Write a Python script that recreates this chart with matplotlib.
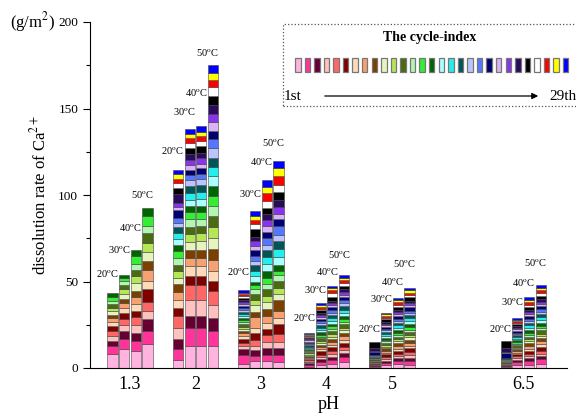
import matplotlib
matplotlib.use('Agg')
import matplotlib.pyplot as plt
from matplotlib.patches import Rectangle

plt.rcParams['font.family'] = ['Liberation Serif', 'DejaVu Serif']
plt.rcParams['mathtext.fontset'] = 'stix'

# pH groups, temperatures and dissolved Ca per cycle (29 cycles, g/m2)
ph_labels = ['1.3', '2', '3', '4', '5', '6.5']
ph_pos = [1, 2, 3, 4, 5, 7]
temps = ['20', '30', '40', '50']

ph13 = [
    [8.3, 4.2, 2.9, 2.9, 2.9, 2.9, 2.3, 2.5, 1.9, 1.9, 1.9, 2.3, 1.9, 2.1, 2.3] + [0] * 14,
    [11.0, 5.8, 4.4, 3.5, 3.7, 3.5, 2.5, 2.9, 2.7, 2.9, 2.5, 2.5, 2.3, 1.9, 1.9] + [0] * 14,
    [9.6, 5.8, 4.8, 4.4, 4.6, 3.8, 3.8, 4.4, 3.3, 4.4, 4.2, 3.5, 3.8, 4.2, 3.5] + [0] * 14,
    [13.8, 7.3, 7.1, 4.8, 5.4, 7.1, 4.8, 6.3, 5.2, 5.4, 4.8, 5.8, 4.4, 5.8, 4.2] + [0] * 14,
]
ph2 = [
    [4.4, 6.5, 6.0, 6.2, 6.7, 4.8, 4.8, 4.8, 4.2, 3.8, 3.8, 3.5, 3.8, 4.2, 3.5,
     3.5, 3.3, 3.5, 2.7, 2.9, 4.4, 1.9, 2.3, 4.8, 3.5, 2.9, 2.3, 3.1, 2.3],
    [12.5, 10.4, 7.3, 9.2, 8.7, 5.2, 5.4, 4.8, 4.6, 4.8, 4.6, 4.2, 4.4, 3.8, 3.5,
     3.8, 4.2, 3.8, 3.3, 3.0, 3.2, 2.6, 3.0, 3.2, 3.8, 2.6, 3.0, 2.3, 3.2],
    [12.5, 10.6, 7.1, 9.3, 8.7, 5.2, 5.4, 4.8, 4.8, 4.8, 4.6, 4.2, 4.4, 3.8, 3.5,
     3.8, 4.4, 3.8, 3.5, 3.0, 3.2, 2.6, 3.2, 3.2, 3.8, 3.0, 2.9, 2.3, 3.4],
    [12.9, 8.7, 7.1, 7.9, 7.7, 5.8, 5.8, 6.7, 6.3, 6.2, 6.3, 6.2, 5.8, 6.2, 5.4,
     6.2, 5.0, 5.2, 5.8, 5.2, 4.4, 5.2, 5.0, 5.2, 5.2, 4.8, 4.0, 4.2, 4.8],
]
ph3 = [
    [2.5, 5.2, 3.5, 1.5, 1.8, 2.5, 1.5, 1.5, 1.5, 1.2, 1.2, 1.5, 1.2, 1.2, 1.2,
     1.2, 1.2, 1.2, 1.0, 1.2, 1.2, 1.0, 1.0, 1.2, 1.2, 1.0, 1.2, 1.0, 1.2],
    [3.8, 2.9, 3.5, 2.7, 3.5, 3.8, 2.9, 6.6, 2.9, 3.8, 3.0, 3.5, 2.5, 2.3, 2.3,
     3.0, 3.0, 3.3, 2.7, 2.5, 3.8, 2.5, 2.5, 2.7, 4.5, 2.5, 2.5, 2.3, 2.9],
    [4.2, 3.5, 3.8, 3.3, 4.2, 3.8, 3.3, 4.2, 3.8, 4.0, 3.5, 3.8, 3.3, 3.5, 3.8,
     4.2, 4.0, 3.8, 3.3, 3.8, 3.8, 3.3, 3.3, 3.5, 3.5, 4.2, 4.2, 3.5, 4.0],
    [3.5, 4.0, 3.8, 3.5, 4.6, 5.8, 3.8, 4.2, 6.0, 3.8, 3.0, 4.2, 3.3, 2.5, 3.5,
     4.6, 4.6, 4.6, 3.8, 4.8, 4.0, 3.3, 4.0, 3.8, 4.6, 4.2, 5.4, 4.6, 3.8],
]
ph4 = [
    [0.8, 1.2, 1.0, 0.6, 0.8, 0.8, 0.6, 0.6, 0.8, 0.6, 0.6, 0.8, 0.6, 0.6, 0.8,
     0.6, 0.6, 0.8, 0.6, 0.6, 0.8, 0.8, 0.6, 0.6, 0.6, 0.6, 0.6, 0.6, 0.6],
    [1.8, 1.8, 1.5, 1.2, 1.5, 1.8, 1.2, 1.5, 1.2, 1.0, 1.2, 1.5, 1.0, 1.0, 1.5,
     1.2, 1.5, 1.5, 1.0, 1.2, 1.5, 1.0, 1.0, 1.2, 1.5, 1.0, 1.0, 1.0, 1.2],
    [2.2, 2.2, 2.0, 1.5, 1.8, 2.2, 1.5, 1.8, 1.5, 1.5, 1.5, 1.8, 1.2, 1.5, 1.5,
     1.5, 1.8, 1.8, 1.2, 1.5, 1.5, 1.2, 1.2, 1.5, 2.2, 2.0, 1.8, 1.2, 1.5],
    [3.6, 2.8, 2.2, 1.8, 2.0, 2.2, 1.8, 2.0, 1.8, 1.5, 1.5, 2.0, 1.5, 1.5, 1.8,
     1.8, 2.0, 2.0, 1.5, 1.8, 1.8, 1.5, 1.5, 1.8, 1.8, 1.5, 1.8, 1.5, 1.5],
]
ph5 = [
    [0.6, 0.6, 0.5, 0.3, 0.4, 0.6, 0.3, 0.4, 0.5, 0.3, 0.3, 0.4, 0.3, 0.3, 0.3,
     0.3, 0.3, 0.3, 0.3, 0.3, 1.5, 0.3, 0.3, 2.0, 3.1, 0, 0, 0, 0],
    [1.5, 1.5, 1.2, 1.0, 1.2, 1.5, 1.0, 1.2, 1.2, 1.0, 1.0, 1.2, 0.9, 1.0, 1.2,
     1.0, 1.0, 1.2, 0.9, 1.0, 1.2, 0.9, 0.9, 1.0, 1.5, 0.9, 1.0, 0.9, 1.0],
    [2.2, 1.8, 1.5, 1.2, 1.5, 1.8, 1.2, 1.5, 1.5, 1.2, 1.2, 1.5, 1.2, 1.2, 1.5,
     1.2, 1.5, 1.5, 1.2, 1.2, 1.5, 1.2, 1.2, 1.2, 1.8, 1.2, 1.2, 1.2, 1.2],
    [2.0, 2.2, 1.8, 1.5, 1.8, 2.0, 1.5, 1.8, 1.8, 1.5, 1.2, 1.8, 1.2, 1.5, 1.8,
     1.5, 1.8, 1.8, 1.2, 1.5, 1.8, 1.2, 1.2, 1.5, 2.0, 1.2, 1.5, 1.2, 1.5],
]
ph65 = [
    [0.5, 0.6, 0.5, 0.2, 0.3, 0.5, 0.2, 0.3, 0.4, 0.2, 0.2, 0.3, 0.2, 0.2, 0.2,
     0.2, 0.2, 0.3, 0.2, 0.2, 3.0, 0.2, 0.2, 2.5, 3.8, 0, 0, 0, 0],
    [1.7, 2.0, 1.2, 0.8, 1.0, 1.2, 0.8, 1.0, 1.0, 0.8, 0.8, 1.0, 0.8, 0.8, 1.0,
     0.9, 1.0, 1.0, 0.8, 0.9, 1.0, 0.8, 0.8, 0.9, 1.2, 0.8, 0.9, 0.8, 1.0],
    [1.8, 2.2, 1.5, 1.2, 1.5, 1.8, 1.2, 1.5, 1.5, 1.2, 1.2, 1.5, 1.2, 1.2, 1.5,
     1.2, 1.5, 1.5, 1.2, 1.2, 1.5, 1.2, 1.2, 1.2, 1.8, 1.2, 1.5, 1.2, 1.5],
    [2.5, 2.5, 1.8, 1.5, 1.8, 2.0, 1.5, 1.8, 1.8, 1.5, 1.2, 1.8, 1.2, 1.5, 1.8,
     1.5, 1.8, 1.8, 1.2, 1.5, 1.8, 1.2, 1.2, 1.5, 2.0, 1.5, 1.8, 1.2, 1.5],
]
groups = [ph13, ph2, ph3, ph4, ph5, ph65]

cycle_colors = ['#ffb3de', '#ff3399', '#660033', '#ffc0c0', '#ff6666', '#800000',
                '#ffdab9', '#f7a070', '#7b3f00', '#e6f5c0', '#b5e655', '#4a6b10',
                '#b3f5b3', '#33ee33', '#006400', '#aaffff', '#22eeee', '#005555',
                '#bbc4ff', '#5577ff', '#000070', '#d9b3f5', '#8833ee', '#2a0a5e',
                '#000000', '#ffffff', '#ff0000', '#ffff00', '#0000ff']

# label lift above each bar (pixels)
lift = [[19, 24, 22, 13], [19, 16, 33, 12], [18, 17, 18, 18],
        [15, 13, 13, 20], [13, 13, 16, 24], [12, 16, 14, 22]]

fig = plt.figure(figsize=(5.76, 4.18), dpi=100)
ax = fig.add_axes([90 / 576, 50 / 418, 477 / 576, 346 / 418])

step = 0.178
width = 0.155
for g, (pos, bars) in enumerate(zip(ph_pos, groups)):
    for i, vals in enumerate(bars):
        x = pos + (i - 1.5) * step
        bottom = 0
        for c, v in enumerate(vals):
            if v <= 0:
                continue
            ax.bar(x, v, width=width, bottom=bottom, color=cycle_colors[c],
                   edgecolor='#444444', linewidth=0.4)
            bottom += v
        ax.annotate(temps[i] + r'$^{\rm o}$C', xy=(x, bottom),
                    xytext=(-3.6, lift[g][i] * 0.72), textcoords='offset points',
                    ha='center', va='center', fontsize=7.5, color='black')

ax.set_xlim(0.39, 7.67)
ax.set_ylim(0, 200)
ax.set_xticks(ph_pos)
ax.set_xticklabels(ph_labels, fontsize=13)
ax.tick_params(axis='x', length=0, pad=6)
ax.set_yticks([0, 50, 100, 150, 200])
ax.set_yticks([25, 75, 125, 175], minor=True)
ax.tick_params(axis='y', labelsize=9.5, length=5, width=0.8)
ax.tick_params(axis='y', which='minor', length=3, width=0.8)
ax.spines['top'].set_visible(False)
ax.spines['right'].set_visible(False)
ax.set_xlabel('pH', fontsize=13, labelpad=2)
ax.set_ylabel('dissolution rate of Ca$^{2+}$', fontsize=12, labelpad=6)
fig.text(10 / 576, 1 - 22 / 418, '(g/m$^2$)', fontsize=12, va='center')


def fpos(px, py):
    return px / 576, 1 - py / 418


# cycle-index key
x0, y0 = fpos(283, 106)
fig.patches.append(Rectangle((x0, y0), 0.6, 82 / 418, transform=fig.transFigure,
                             fill=False, linestyle=':', linewidth=0.9,
                             edgecolor='#555555'))
tx, ty = fpos(430, 38)
fig.text(tx, ty, 'The cycle-index', fontsize=10, fontweight='bold',
         ha='center', va='center')
for c, col in enumerate(cycle_colors):
    sx, sy = fpos(295 + c * 9.57, 72)
    fig.patches.append(Rectangle((sx, sy), 5.5 / 576, 14 / 418,
                                 transform=fig.transFigure, facecolor=col,
                                 edgecolor='#777777', linewidth=0.9))
lx, ly = fpos(284, 96)
fig.text(lx, ly, '1st', fontsize=11, va='center')
rx, ry = fpos(549, 96)
fig.text(rx, ry, '29th', fontsize=11, va='center')
ax.annotate('', xy=fpos(541, 96), xytext=fpos(322, 96),
            xycoords='figure fraction', textcoords='figure fraction',
            arrowprops=dict(arrowstyle='-|>', color='black', lw=0.9,
                            mutation_scale=9))

fig.savefig('out.png', dpi=100)
